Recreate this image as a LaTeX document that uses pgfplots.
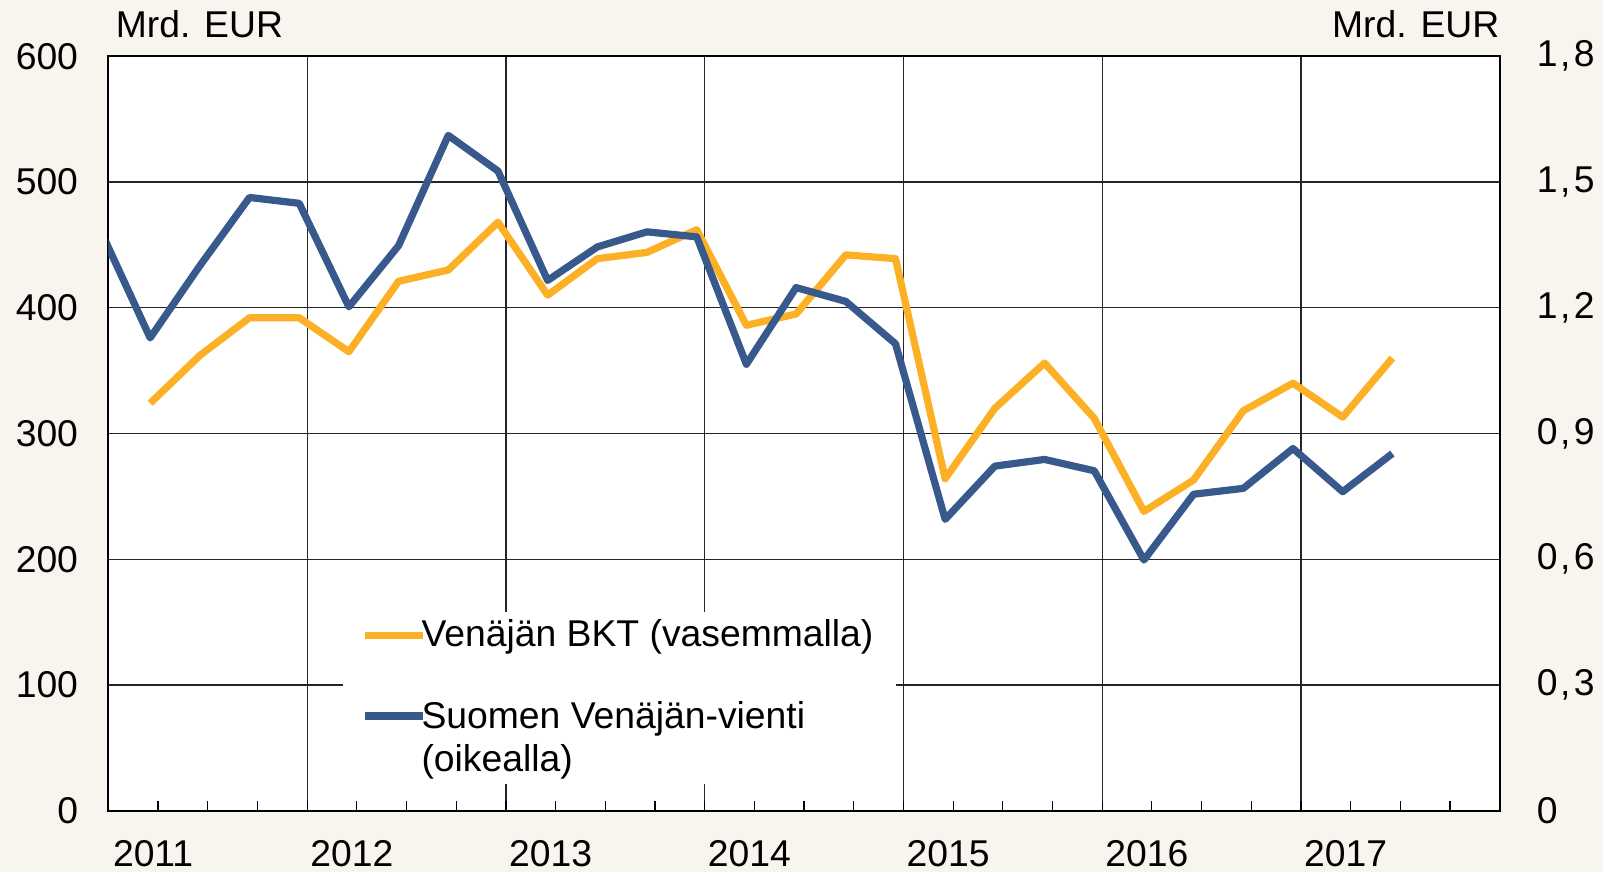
\documentclass[border=0pt]{standalone}
\usepackage{fontspec}
\setmainfont{Liberation Sans}
\usepackage{pgfplots}
\pgfplotsset{compat=1.18}
\definecolor{bgc}{RGB}{248,244,238}
\definecolor{orng}{RGB}{252,176,38}
\definecolor{blu}{RGB}{55,89,139}
\newcommand{\dc}[2]{#1\kern1.2pt,\kern1.8pt#2}
\begin{document}
\fontsize{18.65}{19.5}\selectfont
\begin{tikzpicture}
\fill[bgc] (-54.2pt,-30.65pt) rectangle (747.3pt,405.35pt);
\path[use as bounding box] (-54.2pt,-30.65pt) rectangle (747.3pt,405.35pt);
\begin{axis}[
  name=ax1,
  at={(0pt,0pt)}, anchor=south west,
  scale only axis, width=695.65pt, height=377.25pt,
  xmin=0, xmax=28, ymin=0, ymax=600,
  axis background/.style={fill=white},
  axis line style={line width=1pt, black},
  ytick={0,100,200,300,400,500,600},
  yticklabels={0,100,200,300,400,500,600},
  ytick pos=left,
  ytick style={draw=none},
  yticklabel style={anchor=east, inner sep=0pt, xshift=-15pt},
  ymajorgrids,
  xtick={4,8,12,16,20,24},
  xticklabels={},
  xmajorgrids,
  major grid style={line width=0.6pt, black!85},
  xtick pos=bottom,
  tick align=inside,
  major x tick style={draw=none},
  minor xtick={1,2,...,27},
  minor tick length=5pt,
  minor x tick style={line width=0.6pt, black},
  extra x ticks={0.9,4.9,8.9,12.9,16.9,20.9,24.9},
  extra x tick labels={2011,2012,2013,2014,2015,2016,2017},
  extra x tick style={grid=none, major tick length=0pt, tick style={draw=none},
     xticklabel style={anchor=center, inner sep=0pt, yshift=-21.45pt}},
  legend style={at={(0.168,0.2634)}, anchor=north west, fill=white, draw=none,
     inner xsep=9.5pt, inner ysep=1.5pt, row sep=0.95pt, column sep=-4.6pt,
     cells={anchor=base west, inner sep=0pt}},
  legend cell align=left,
  legend image code/.code={\path (0pt,0pt) -- (29pt,0pt);
     \draw[#1,line cap=round,overlay] (1.8pt,0pt) -- (27.2pt,0pt);},
]
\addplot[orng, line width=3.6pt, line join=round] coordinates {
(0.84,324) (1.84,362) (2.84,392) (3.84,392) (4.84,365) (5.84,421) (6.84,430)
(7.84,468) (8.84,410) (9.84,439) (10.84,444) (11.84,462) (12.84,386) (13.84,395)
(14.84,442) (15.84,439) (16.84,264) (17.84,320) (18.84,356) (19.84,312)
(20.84,238) (21.84,263) (22.84,318) (23.84,340) (24.84,313) (25.84,360)};
\addlegendentry{Venäjän BKT (vasemmalla)}
\addlegendimage{blu, line width=3.6pt, yshift=-8.95pt}
\addlegendentry{\rule{0pt}{33.5pt}Suomen Venäjän-vienti}
\addlegendimage{empty legend}
\addlegendentry{(oikealla)\rule[-9pt]{0pt}{1pt}}
\end{axis}
\begin{axis}[
  at={(0pt,0pt)}, anchor=south west,
  scale only axis, width=695.65pt, height=377.25pt,
  xmin=0, xmax=28, ymin=0, ymax=1.8,
  axis x line=none,
  axis y line*=right,
  axis line style={line width=1pt, black, -},
  ytick={0,0.3,0.6,0.9,1.2,1.5,1.8},
  yticklabels={0,{\dc{0}{3}},{\dc{0}{6}},{\dc{0}{9}},{\dc{1}{2}},{\dc{1}{5}},{\dc{1}{8}}},
  ytick style={draw=none},
  yticklabel style={anchor=west, inner sep=0pt, xshift=18.4pt},
]
\addplot[blu, line width=3.6pt, line join=round] coordinates {
(-0.16,1.385) (0.84,1.128) (1.84,1.30) (2.84,1.463) (3.84,1.449) (4.84,1.202)
(5.84,1.348) (6.84,1.611) (7.84,1.526) (8.84,1.265) (9.84,1.345) (10.84,1.381)
(11.84,1.369) (12.84,1.065) (13.84,1.248) (14.84,1.215) (15.84,1.114)
(16.84,0.695) (17.84,0.822) (18.84,0.838) (19.84,0.811) (20.84,0.598)
(21.84,0.755) (22.84,0.769) (23.84,0.864) (24.84,0.761) (25.84,0.852)};
\end{axis}
\node[anchor=base west, inner sep=0pt, xshift=3.5pt, yshift=9.6pt] at (ax1.north west) {Mrd. EUR};
\node[anchor=base east, inner sep=0pt, yshift=9.6pt] at (ax1.north east) {Mrd. EUR};
\end{tikzpicture}
\end{document}
